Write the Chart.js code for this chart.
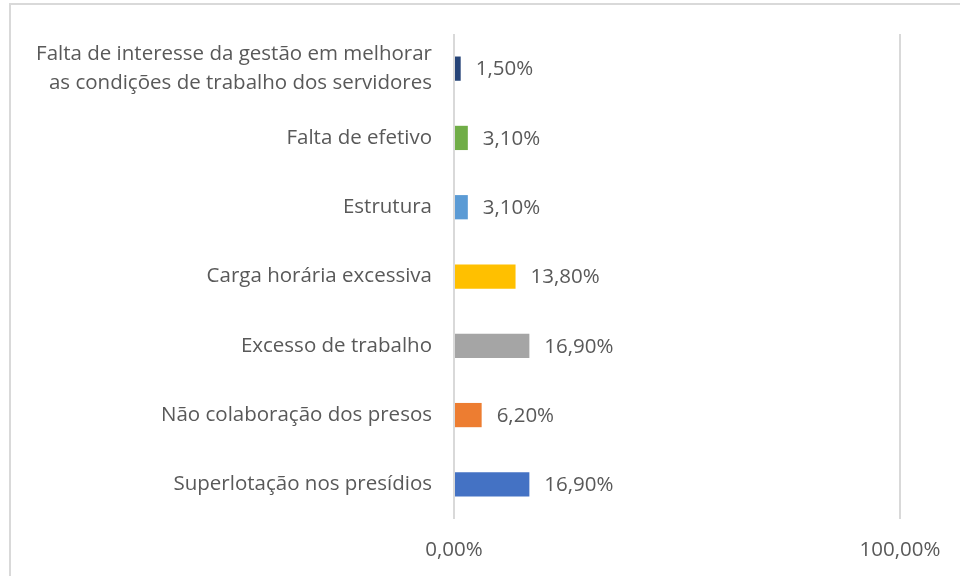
<!DOCTYPE html>
<html>
<head>
<meta charset="utf-8">
<script src="https://cdn.jsdelivr.net/npm/chart.js@4"></script>
<style>
  html, body { margin: 0; padding: 0; background: #fff; }
  #wrap { position: relative; width: 960px; height: 576px; overflow: hidden; }
  #frame { position: absolute; left: 9px; top: 3px; width: 980px; height: 600px; border: 2px solid #d9d9d9; box-sizing: border-box; }
  #chart { position: absolute; left: 0; top: 0; }
</style>
</head>
<body>
<div id="wrap">
  <div id="frame"></div>
  <canvas id="chart" width="960" height="576"></canvas>
</div>
<script>
// categorias (de cima para baixo)
const categories = [
  ["Falta de interesse da gestão em melhorar", "as condições de trabalho dos servidores"],
  "Falta de efetivo",
  "Estrutura",
  "Carga horária excessiva",
  "Excesso de trabalho",
  "Não colaboração dos presos",
  "Superlotação nos presídios",
];
const values = [1.5, 3.1, 3.1, 13.8, 16.9, 6.2, 16.9];
const barColors = ["#264478", "#70AD47", "#5B9BD5", "#FFC000", "#A5A5A5", "#ED7D31", "#4472C4"];
const xTicks = [0, 100];

const FONT = "Open Sans";
const FSIZE = 20.5;
const fmt = (v) => v.toFixed(2).replace(".", ",") + "%";

// rótulos de dados ao lado das barras
const barLabels = {
  id: "barLabels",
  afterDatasetsDraw(chart) {
    const ctx = chart.ctx;
    const meta = chart.getDatasetMeta(0);
    ctx.save();
    ctx.font = FSIZE + "px '" + FONT + "'";
    ctx.fillStyle = "#595959";
    ctx.textAlign = "left";
    ctx.textBaseline = "middle";
    meta.data.forEach((bar, i) => {
      ctx.fillText(fmt(values[i]), bar.x + 15, bar.y + 1);
    });
    ctx.restore();
  },
};

const context = document.getElementById("chart").getContext("2d");
new Chart(context, {
  type: "bar",
  data: {
    labels: categories,
    datasets: [
      {
        data: values,
        backgroundColor: barColors,
        borderWidth: 0,
        barPercentage: 0.5,
        categoryPercentage: 0.7,
      },
    ],
  },
  options: {
    indexAxis: "y",
    responsive: false,
    animation: false,
    layout: { padding: { top: 34, right: 60, bottom: 0, left: 0 } },
    plugins: {
      legend: { display: false },
      tooltip: { enabled: false },
    },
    scales: {
      x: {
        min: 0,
        max: 100,
        afterBuildTicks: (scale) => {
          scale.ticks = xTicks.map((v) => ({ value: v }));
        },
        afterFit: (scale) => {
          scale.height = 57;
        },
        ticks: {
          callback: (v) => fmt(v),
          color: "#595959",
          font: { family: FONT, size: FSIZE },
          padding: 19,
        },
        grid: { color: "#d9d9d9", lineWidth: 2, drawTicks: false },
        border: { display: false },
      },
      y: {
        afterFit: (scale) => {
          scale.width = 454;
        },
        ticks: {
          color: "#595959",
          font: { family: FONT, size: FSIZE, lineHeight: 1.45 },
          padding: 14,
        },
        grid: { display: false },
        border: { display: false },
      },
    },
  },
  plugins: [barLabels],
});
</script>
</body>
</html>
